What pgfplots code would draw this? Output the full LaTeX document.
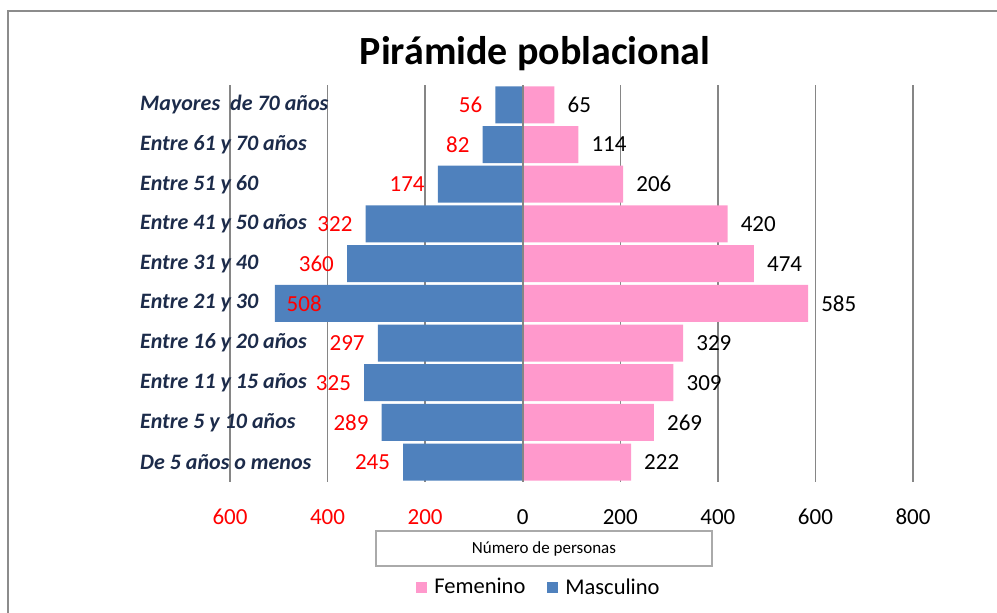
\documentclass[border=0pt]{standalone}
\usepackage{pgfplots}
\pgfplotsset{compat=1.18}
\usepackage{pgfplotstable}
\usepackage{fontspec}
\setmainfont{Carlito}

\definecolor{masc}{HTML}{4F81BD}
\definecolor{fem}{HTML}{FF99CC}
\definecolor{gridc}{HTML}{868686}
\definecolor{catc}{HTML}{1C2B4A}
\definecolor{framec}{HTML}{8C8C8C}

% y = category index (bottom to top), m = masculino, f = femenino, s = label shift
\pgfplotstableread{
y m f s
0 245 222 -13
1 289 269 -13
2 325 309 -13
3 297 329 -13
4 508 585 47
5 360 474 -13
6 322 420 -13
7 174 206 -13
8 82 114 -13
9 56 65 -13
}\datos

\begin{document}
\begin{tikzpicture}
\useasboundingbox (0pt,0pt) rectangle (997pt,613pt);
\draw[framec, line width=1.5pt] (8pt,-50pt) -- (8pt,602pt) -- (1100pt,602pt);

\node[font=\fontsize{40}{40}\selectfont\bfseries, anchor=base] at (535pt,548pt) {Pirámide poblacional};

\begin{axis}[
    at={(230pt,131pt)}, anchor=south west,
    x=0.48786pt, y=39.7pt,
    xmin=-600, xmax=800,
    ymin=-0.5, ymax=9.5,
    xbar, bar shift=0pt, bar width=37pt,
    /pgf/number format/assume math mode=true,
    axis line style={draw=none},
    major tick length=0pt,
    xmajorgrids,
    major grid style={gridc, line width=1.5pt},
    xtick={-600,-400,...,800},
    xticklabels={\textcolor{red}{600},\textcolor{red}{400},\textcolor{red}{200},0,200,400,600,800},
    xticklabel style={anchor=base, yshift=-43pt, inner sep=0pt, font=\fontsize{23}{23}\selectfont},
    ytick={0,...,9},
    yticklabels={De 5 años o menos, Entre 5 y 10 años, Entre 11 y 15 años, Entre 16 y 20 años,
        Entre 21 y 30, Entre 31 y 40, Entre 41 y 50 años, Entre 51 y 60, Entre 61 y 70 años,
        Mayores\ \ de 70 años},
    yticklabel style={anchor=west, xshift=-90pt, inner sep=0pt, text=catc,
        font=\fontsize{22}{22}\selectfont\bfseries\itshape},
    xlabel={Número de personas},
    xlabel style={at={(rel axis cs:0.4597,-0.1675)}, anchor=center, draw=gridc!70,
        line width=1.2pt, fill=white, minimum width=336pt, minimum height=35pt,
        inner sep=0pt, font=\fontsize{17}{17}\selectfont},
    legend style={at={(rel axis cs:0.4524,-0.2645)}, anchor=center, draw=none,
        legend columns=2, font=\fontsize{22.5}{22.5}\selectfont,
        /tikz/every odd column/.append style={column sep=5pt},
        /tikz/every even column/.append style={column sep=20pt}},
    legend image code/.code={\fill[#1] (0pt,-5.5pt) rectangle (11pt,5.5pt);},
]
\addplot[draw=none, fill=fem, point meta=x,
    nodes near coords,
    every node near coord/.append style={anchor=west, xshift=13pt, inner sep=0pt,
        text=black, font=\fontsize{23}{23}\selectfont}]
    table[x=f, y=y] {\datos};
\addlegendentry{Femenino}

\addplot[draw=none, fill=masc, point meta=explicit,
    visualization depends on={\thisrow{s} \as \lshift},
    nodes near coords,
    every node near coord/.append style={anchor=east, xshift=\lshift pt, inner sep=0pt,
        text=red, font=\fontsize{23}{23}\selectfont}]
    table[x expr=-\thisrow{m}, y=y, meta=m] {\datos};
\addlegendentry{Masculino}

\draw[gridc, line width=2pt] (axis cs:0,-0.5) -- (axis cs:0,9.5);
\end{axis}
\end{tikzpicture}
\end{document}
